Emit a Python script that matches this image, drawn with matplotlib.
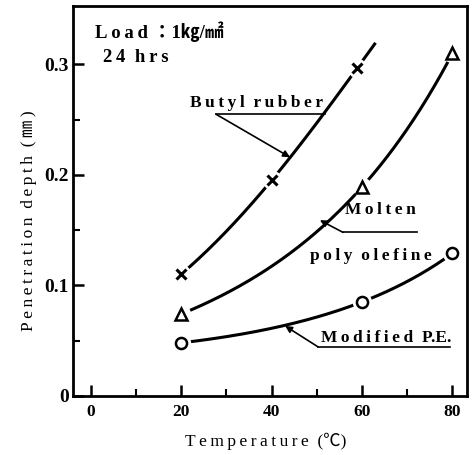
import numpy as np
import matplotlib
matplotlib.use("Agg")
import matplotlib.pyplot as plt

plt.rcParams['font.family'] = ['Liberation Serif', 'Noto Sans CJK JP', 'DejaVu Sans']
plt.rcParams['font.weight'] = 'bold'

# === Data ===
butyl_x = [20, 40, 59]
butyl_y = [0.110, 0.195, 0.297]
butyl_end = 63          # curve is drawn a bit past the last point

molten_x = [20, 60, 80]
molten_y = [0.074, 0.189, 0.310]

pe_x = [20, 60, 80]
pe_y = [0.048, 0.085, 0.129]

x_ticks = [0, 20, 40, 60, 80]
y_ticks = [0, 0.1, 0.2, 0.3]
y_tick_labels = ["0", "0.1", "0.2", "0.3"]


def smooth(xs, ys, x_end=None):
    # smooth curve through the points (quadratic in log space)
    coef = np.polyfit(xs, np.log(ys), 2)
    xx = np.linspace(xs[0], x_end if x_end else xs[-1], 200)
    return xx, np.exp(np.polyval(coef, xx))


def spaced(s):
    # old typewriter-ish letter spacing
    return "\u2009".join(s)


fig = plt.figure(figsize=(4.74, 4.55), dpi=100)
ax = fig.add_axes([0.154, 0.130, 0.831, 0.857])

# === Curves ===
for xs, ys, end in [(butyl_x, butyl_y, butyl_end), (molten_x, molten_y, None), (pe_x, pe_y, None)]:
    xx, yy = smooth(xs, ys, end)
    ax.plot(xx, yy, color='black', lw=2.2, zorder=2, solid_capstyle='butt')
    # white gaps around the markers
    ax.plot(xs, ys, 'o', ms=14, color='white', mec='none', zorder=3)

ax.plot(butyl_x, butyl_y, 'x', ms=6.5, mew=2.2, color='black', zorder=4)
ax.plot(molten_x, molten_y, '^', ms=8, mew=1.8, mfc='white', mec='black', zorder=4)
ax.plot(pe_x, pe_y, 'o', ms=8, mew=1.8, mfc='white', mec='black', zorder=4)

# === Labels with leader lines ===
arrow = dict(arrowstyle='-|>', lw=1.2, color='black', mutation_scale=10, shrinkA=0, shrinkB=0)
fs = 12.5
ax.text(22.0, 0.265, spaced("Butyl") + "  " + spaced("rubber"), fontsize=fs, va='center', ha='left')
ax.plot([27.7, 51.8], [0.255, 0.255], color='black', lw=1.2)
ax.annotate("", xy=(44.1, 0.216), xytext=(27.7, 0.255), arrowprops=arrow)

ax.text(56.2, 0.168, spaced("Molten"), fontsize=fs, va='center', ha='left')
ax.plot([55.8, 72.2], [0.148, 0.148], color='black', lw=1.2)
ax.annotate("", xy=(50.7, 0.159), xytext=(55.8, 0.148), arrowprops=arrow)
ax.text(48.5, 0.127, spaced("poly") + "  " + spaced("olefine"), fontsize=fs, va='center', ha='left')

ax.text(51.0, 0.052, spaced("Modified") + "  P.E.", fontsize=fs, va='center', ha='left')
ax.plot([50.3, 79.5], [0.0443, 0.0443], color='black', lw=1.2)
ax.annotate("", xy=(43.0, 0.0633), xytext=(50.3, 0.0443), arrowprops=arrow)

ax.text(1.0, 0.330, spaced("Load") + " ：1㎏/㎟", fontsize=13.5, va='center', ha='left')
ax.text(2.8, 0.306, spaced("24") + "  " + spaced("hrs"), fontsize=13.5, va='center', ha='left')

# === Axes ===
ax.set_xlim(-3.9, 83.2)
ax.set_ylim(0, 0.353)
ax.set_xticks(x_ticks)
ax.set_xticks([10, 30, 50, 70], minor=True)
ax.set_yticks(y_ticks)
ax.set_yticklabels(y_tick_labels)
ax.set_yticks([0.05, 0.15, 0.25], minor=True)
ax.tick_params(which='major', direction='in', length=8, width=1.8)
ax.tick_params(which='minor', direction='in', length=5, width=1.5)
ax.tick_params(axis='x', labelsize=12.5, pad=6)
ax.tick_params(axis='y', labelsize=14, pad=3)
for s in ax.spines.values():
    s.set_linewidth(2)

ax.set_xlabel(spaced("Temperature") + "  (℃)", fontsize=12.5)
ax.set_ylabel("  ".join(spaced(w) for w in ["Penetration", "depth", "(㎜)"]), fontsize=12.5)
ax.xaxis.set_label_coords(0.49, -0.095)
ax.yaxis.set_label_coords(-0.092, 0.45)

fig.savefig("out.png", dpi=100)
